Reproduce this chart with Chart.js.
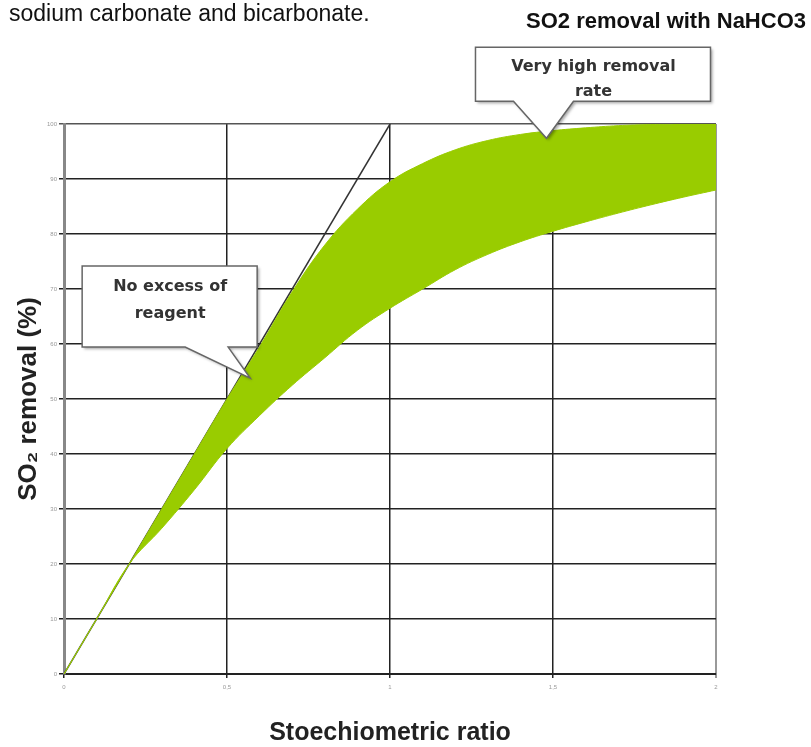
<!DOCTYPE html>
<html>
<head>
<meta charset="utf-8">
<script src="https://cdn.jsdelivr.net/npm/chart.js@4.4.1/dist/chart.umd.min.js"></script>
<style>
  body { margin: 0; background: #fff; }
  #wrap { position: relative; width: 811px; height: 747px; overflow: hidden; }
  .note { position: absolute; line-height: 1; white-space: nowrap; font-family: "Liberation Sans", Arial, sans-serif; color: #111; }
</style>
</head>
<body>
<div id="wrap">
  <canvas id="myChart"></canvas>
  <div class="note" style="left:9px; top:2px; font-size:23px;">sodium carbonate and bicarbonate.</div>
  <div class="note" style="right:5px; top:10px; font-size:22px; font-weight:bold;">SO2 removal with NaHCO3</div>
</div>
<script>
// stoichiometric ratio (x) and the two edges of the removal band (%)
var ratios      = [0, 0.1, 0.2, 0.3, 0.4, 0.5, 0.6, 0.7, 0.8, 0.9, 1.0, 1.1, 1.2, 1.3, 1.4, 1.5, 1.6, 1.7, 1.8, 1.9, 2.0];
var removalLow  = [0, 10, 20, 26.5, 33.5, 41, 47, 52.5, 57.5, 62.5, 66.5, 70, 73.5, 76.3, 78.6, 80.5, 82.2, 83.8, 85.3, 86.7, 88];
var removalHigh = [0, 10, 20, 30, 40, 50, 59.5, 69.5, 78, 84.5, 89.5, 92.8, 95.3, 97, 98.1, 98.8, 99.3, 99.7, 99.9, 100, 100];

// no excess of reagent: removal = 100 x ratio
var idealX = [0, 1];
var idealY = [0, 100];

var xTickLabels = {'0': '0', '0.5': '0,5', '1': '1', '1.5': '1,5', '2': '2'};

var callouts = [
    {lines: ['Very high removal', 'rate'], x: 1.48, y: 97.4, box: [-71, -91, 164, -37], base: [-33, 27], text: [47, -67, -42]},
    {lines: ['No excess of', 'reagent'], x: 0.571, y: 53.8, box: [-168, -112, 7, -31], base: [-65, -22], text: [-80, -87, -60]}
];

function pts(xs, ys) {
    return xs.map(function (x, i) { return {x: x, y: ys[i]}; });
}

var green = '#99cc00';

var calloutPlugin = {
    id: 'callouts',
    afterDatasetsDraw: function (chart) {
        var ctx = chart.ctx;
        var xs = chart.scales.x, ys = chart.scales.y;
        callouts.forEach(function (c) {
            var tx = xs.getPixelForValue(c.x), ty = ys.getPixelForValue(c.y);
            var L = tx + c.box[0], T = ty + c.box[1], R = tx + c.box[2], B = ty + c.box[3];
            ctx.save();
            ctx.beginPath();
            ctx.moveTo(L, T);
            ctx.lineTo(R, T);
            ctx.lineTo(R, B);
            ctx.lineTo(tx + c.base[1], B);
            ctx.lineTo(tx, ty);
            ctx.lineTo(tx + c.base[0], B);
            ctx.lineTo(L, B);
            ctx.closePath();
            ctx.shadowColor = 'rgba(0,0,0,0.35)';
            ctx.shadowBlur = 3;
            ctx.shadowOffsetX = 2;
            ctx.shadowOffsetY = 2;
            ctx.fillStyle = '#fff';
            ctx.fill();
            ctx.shadowColor = 'transparent';
            ctx.strokeStyle = '#666';
            ctx.lineWidth = 1.5;
            ctx.stroke();
            ctx.fillStyle = '#333';
            ctx.font = 'bold 16px "DejaVu Sans", Verdana, sans-serif';
            ctx.textAlign = 'center';
            ctx.textBaseline = 'alphabetic';
            ctx.fillText(c.lines[0], tx + c.text[0], ty + c.text[1]);
            ctx.fillText(c.lines[1], tx + c.text[0], ty + c.text[2]);
            ctx.restore();
        });
    }
};

var ctx = document.getElementById('myChart').getContext('2d');
var myChart = new Chart(ctx, {
    type: 'line',
    data: {
        datasets: [{
            label: 'Removal (low)',
            data: pts(ratios, removalLow),
            borderColor: green,
            backgroundColor: green,
            borderWidth: 1,
            pointRadius: 0,
            tension: 0.4,
            fill: false
        },
        {
            label: 'Removal (high)',
            data: pts(ratios, removalHigh),
            borderColor: green,
            backgroundColor: green,
            borderWidth: 1,
            pointRadius: 0,
            tension: 0.4,
            fill: '-1'
        },
        {
            label: 'No excess of reagent',
            data: pts(idealX, idealY),
            borderColor: '#333',
            borderWidth: 1.5,
            pointRadius: 0,
            fill: false
        }]
    },
    options: {
        responsive: true,
        maintainAspectRatio: false,
        animation: false,
        layout: {
            padding: {top: 124, right: 95, left: 0, bottom: 0}
        },
        plugins: {
            legend: {display: false},
            tooltip: {enabled: false}
        },
        scales: {
            x: {
                type: 'linear',
                min: 0,
                max: 2,
                afterFit: function (s) { s.height = 73; },
                ticks: {
                    stepSize: 0.5,
                    color: '#999',
                    font: {size: 6},
                    padding: 6,
                    callback: function (v) { return xTickLabels[String(v)]; }
                },
                grid: {
                    color: function (c) { return c.tick && c.tick.value === 2 ? '#999' : '#222'; },
                    lineWidth: function (c) { return c.tick && c.tick.value === 2 ? 2 : 1.5; },
                    tickLength: 4
                },
                border: {color: '#222', width: 2},
                title: {
                    display: true,
                    text: 'Stoechiometric ratio',
                    color: '#222',
                    font: {size: 25, weight: 'bold', family: '"Liberation Sans", Arial, sans-serif', lineHeight: 1.1},
                    padding: {top: 0, bottom: 0}
                }
            },
            y: {
                min: 0,
                max: 100,
                afterFit: function (s) { s.width = 64; },
                ticks: {
                    stepSize: 10,
                    color: '#999',
                    font: {size: 6},
                    padding: 2
                },
                grid: {
                    color: function (c) { return c.tick && c.tick.value === 100 ? '#555' : '#222'; },
                    lineWidth: 1.5,
                    tickLength: 5
                },
                border: {color: '#888', width: 3},
                title: {
                    display: true,
                    text: 'SO\u2082 removal (%)',
                    color: '#222',
                    font: {size: 26, weight: 'bold', family: '"Liberation Sans", Arial, sans-serif', lineHeight: 1.2},
                    padding: {top: 13, bottom: 0}
                }
            }
        }
    },
    plugins: [calloutPlugin]
});
</script>
</body>
</html>
